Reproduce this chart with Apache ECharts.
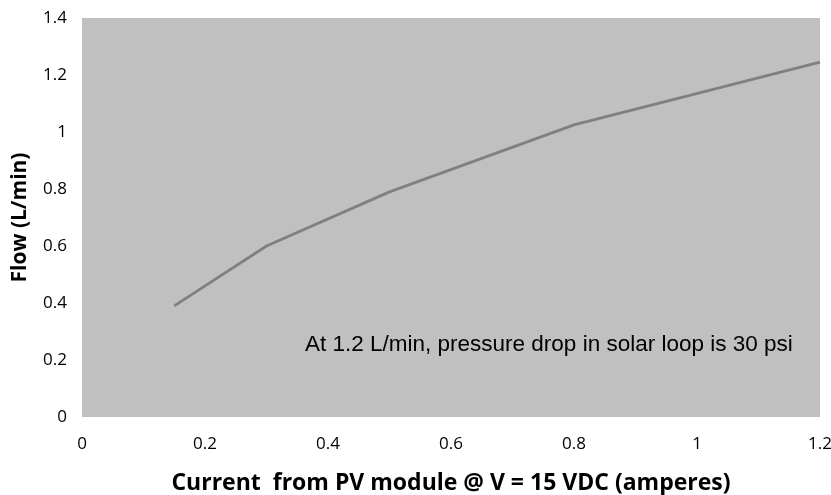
<!DOCTYPE html>
<html>
<head>
<meta charset="utf-8">
<script src="https://cdn.jsdelivr.net/npm/echarts@6/dist/echarts.min.js"></script>
<style>html,body{margin:0;padding:0;background:#fff;}#c{width:831px;height:495px;}</style>
</head>
<body>
<div id="c"></div>
<script>
const currentX = [0.15, 0.3, 0.5, 0.8, 1.2];
const flowY = [0.39, 0.60, 0.79, 1.025, 1.245];
const xTitle = 'Current  from PV module @ V = 15 VDC (amperes)';
const yTitle = 'Flow (L/min)';
const note = 'At 1.2 L/min, pressure drop in solar loop is 30 psi';

const chart = echarts.init(document.getElementById('c'));
const font = '"Open Sans", Lato, sans-serif';
chart.setOption({
  animation: false,
  grid: {left: 82, top: 18, right: 11, bottom: 78, show: true, backgroundColor: '#c0c0c0',
         borderWidth: 0, containLabel: false, outerBoundsMode: 'none'},
  xAxis: {
    type: 'value', min: 0, max: 1.2, interval: 0.2,
    axisLine: {show: false}, axisTick: {show: false}, splitLine: {show: false},
    axisLabel: {color: '#000', fontSize: 17, fontFamily: font, margin: 19,
      formatter: v => String(+v.toFixed(1))},
    name: xTitle, nameLocation: 'middle', nameGap: 55,
    nameTextStyle: {color: '#000', fontSize: 23, fontWeight: 'bold', fontFamily: font}
  },
  yAxis: {
    type: 'value', min: 0, max: 1.4, interval: 0.2,
    axisLine: {show: false}, axisTick: {show: false}, splitLine: {show: false},
    axisLabel: {color: '#000', fontSize: 17, fontFamily: font, margin: 15,
      formatter: v => String(+v.toFixed(1))},
    name: yTitle, nameLocation: 'middle', nameGap: 51, nameRotate: 90,
    nameTextStyle: {color: '#000', fontSize: 21, fontWeight: 'bold', fontFamily: font}
  },
  graphic: [{
    type: 'text', x: 305, y: 345,
    style: {text: note, fill: '#000', verticalAlign: 'middle', align: 'left',
            font: '22.5px "Liberation Sans", Arial, sans-serif'}
  }],
  series: [{
    type: 'line',
    data: currentX.map((x, i) => [x, flowY[i]]),
    showSymbol: false, symbol: 'none',
    lineStyle: {color: '#808080', width: 2.8}
  }]
});
</script>
</body>
</html>
